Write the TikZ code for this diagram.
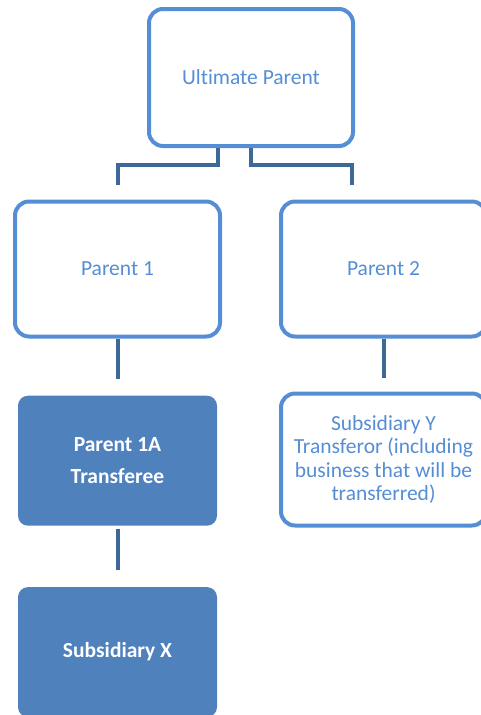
\documentclass[tikz,border=0pt]{standalone}
\usepackage{fontspec}
\setmainfont[Ligatures=CommonOff]{Carlito}
\usepackage{tikz}
\usetikzlibrary{positioning,calc}
\definecolor{edge}{RGB}{85,142,213}
\definecolor{solid}{RGB}{79,129,189}
\definecolor{link}{RGB}{62,104,152}

\begin{document}
\begin{tikzpicture}[
    x=1pt, y=1pt,
    node distance=20pt,
    openbox/.style={rectangle, draw=edge, line width=4pt, rounded corners=14pt, fill=white, minimum width=205pt, minimum height=135pt, align=center, text=edge, font=\fontsize{21.5}{23.5}\selectfont},
    fullbox/.style={rectangle, fill=solid, rounded corners=10pt, minimum width=199pt, minimum height=130pt, align=center, text=white, font=\fontsize{21.5}{23.5}\selectfont\bfseries},
    tie/.style={draw=link, line width=4pt},
]
\useasboundingbox (0,0) rectangle (480,-715);

% === TOP ===
\node[openbox, minimum width=204pt, minimum height=137pt] (ultimate) at (251,-77.5) {Ultimate Parent};

% === PARENTS ===
\node[openbox] (parent1) at (117.5,-269) {Parent 1};
\node[openbox, right=57pt of parent1] (parent2) {Parent 2};

% === LOWER LEVEL ===
\node[fullbox, below=57pt of parent1] (parent1a) {Parent 1A\\[9pt]Transferee};
\node[openbox, below=53pt of parent2, minimum height=132pt] (subY) {Subsidiary Y\\Transferor (including\\business that will be\\transferred)};
\node[fullbox, below=61pt of parent1a] (subX) {Subsidiary X};

% === CONNECTORS ===
\draw[tie] ([xshift=-33pt]ultimate.south) |- ([yshift=35pt]parent1.north) -- ([yshift=15pt]parent1.north);
\draw[tie] (ultimate.south) |- ([xshift=-32pt,yshift=35pt]parent2.north) -- ([xshift=-32pt,yshift=15pt]parent2.north);
\draw[tie] (parent1.south) -- ([yshift=17pt]parent1a.north);
\draw[tie] (parent2.south) -- ([yshift=14pt]subY.north);
\draw[tie] ([yshift=-3pt]parent1a.south) -- ([yshift=17pt]subX.north);

\end{tikzpicture}
\end{document}
